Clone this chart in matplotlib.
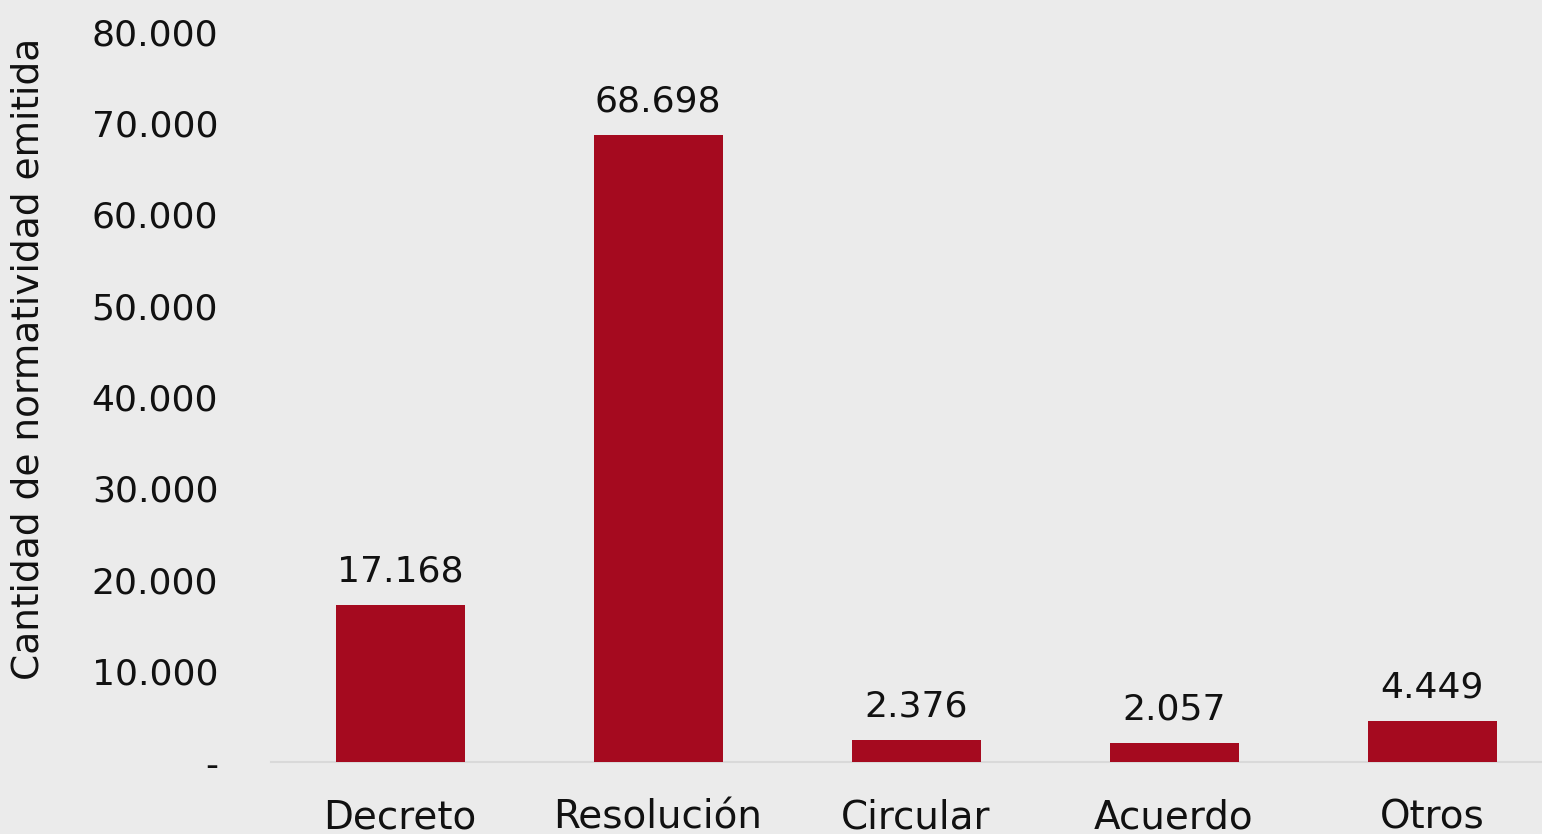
import matplotlib
matplotlib.use("Agg")
import matplotlib.pyplot as plt
from matplotlib.ticker import FuncFormatter

categories = ["Decreto", "Resolución", "Circular", "Acuerdo", "Otros"]
values = [17168, 68698, 2376, 2057, 4449]
yticks = [0, 10000, 20000, 30000, 40000, 50000, 60000, 70000, 80000]

BG = "#ebebeb"
RED = "#a50a1f"


def fmt(v, _pos=None):
    if v == 0:
        return "-"
    return f"{int(v):,}".replace(",", ".")


plt.rcParams["font.family"] = ["DejaVu Sans"]

fig = plt.figure(figsize=(15.42, 8.34), dpi=100, facecolor=BG)
ax = fig.add_axes([271 / 1542, 72 / 834, 1290 / 1542, 730 / 834], facecolor=BG)

x = range(len(categories))
ax.bar(x, values, width=0.5, color=RED, zorder=3)
for xi, v in zip(x, values):
    ax.annotate(fmt(v), (xi, v), xytext=(0, 12), textcoords="offset points",
                ha="center", va="bottom", fontsize=26, color="#111111")

ax.set_xlim(-0.5, len(categories) - 0.5)
ax.set_ylim(0, 80000)
ax.set_yticks(yticks)
ax.yaxis.set_major_formatter(FuncFormatter(fmt))
ax.set_xticks(list(x))
ax.set_xticklabels(categories)
ax.tick_params(axis="y", length=0, pad=38, labelsize=26, labelcolor="#111111")
ax.tick_params(axis="x", length=0, pad=26, labelsize=28, labelcolor="#111111")
ax.set_ylabel("Cantidad de normatividad emitida", fontsize=27, color="#111111")
ax.yaxis.set_label_coords(-0.174, 0.552)

for s in ["top", "right", "left"]:
    ax.spines[s].set_visible(False)
ax.spines["bottom"].set_color("#d9d9d9")
ax.spines["bottom"].set_linewidth(1.5)

fig.savefig("out.png", dpi=100, facecolor=BG)
